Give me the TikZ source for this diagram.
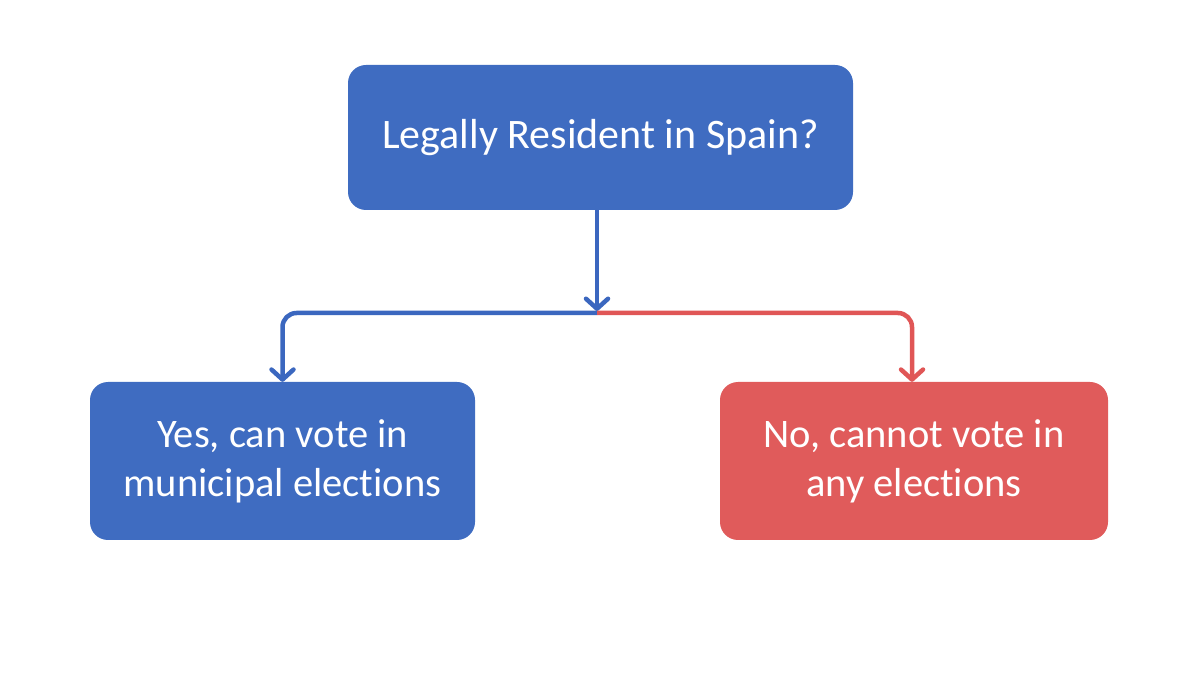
\documentclass[tikz,border=0pt]{standalone}
\usepackage{fontspec}
\setmainfont{Carlito}[Ligatures={NoCommon}]
\usetikzlibrary{arrows.meta}
\definecolor{boxblue}{HTML}{3F6CC1}
\definecolor{boxred}{HTML}{E05B5B}
\definecolor{lineblue}{HTML}{3B67BF}
\definecolor{linered}{HTML}{E05656}
\tikzset{
  box/.style={rounded corners=18pt, text=white, align=center, inner sep=0pt,
              font=\fontsize{42}{49}\selectfont},
  answer/.style={box, font=\fontsize{40.5}{49}\selectfont},
  bluebox/.style={fill=boxblue},
  redbox/.style={fill=boxred},
  flow/.style={line width=4.5pt, line join=round,
               -{Straight Barb[length=10pt, width=22pt, round]}},
}

\begin{document}
\begin{tikzpicture}[x=1pt, y=1pt]
  \useasboundingbox (0,0) rectangle (1200,678);

  % question and the two answers
  \node[box, bluebox, minimum width=505pt, minimum height=145pt] (resident) at (600.5,540.5)
    {Legally Resident in Spain?};
  \node[answer, bluebox, minimum width=385pt, minimum height=158pt] (yes) at (282.5,217)
    {Yes, can vote in\\municipal elections};
  \node[answer, redbox, minimum width=388pt, minimum height=158pt] (no) at (914,217)
    {No, cannot vote in\\any elections};

  \coordinate (split) at (597,365);

  % connectors
  \draw[flow, lineblue, shorten >=2pt] (resident.south -| split) -- (split);
  \draw[flow, lineblue, rounded corners=14pt] (split) -| (yes.north);
  \draw[flow, linered, rounded corners=14pt] (split) -| ([xshift=-2pt]no.north);
\end{tikzpicture}
\end{document}
